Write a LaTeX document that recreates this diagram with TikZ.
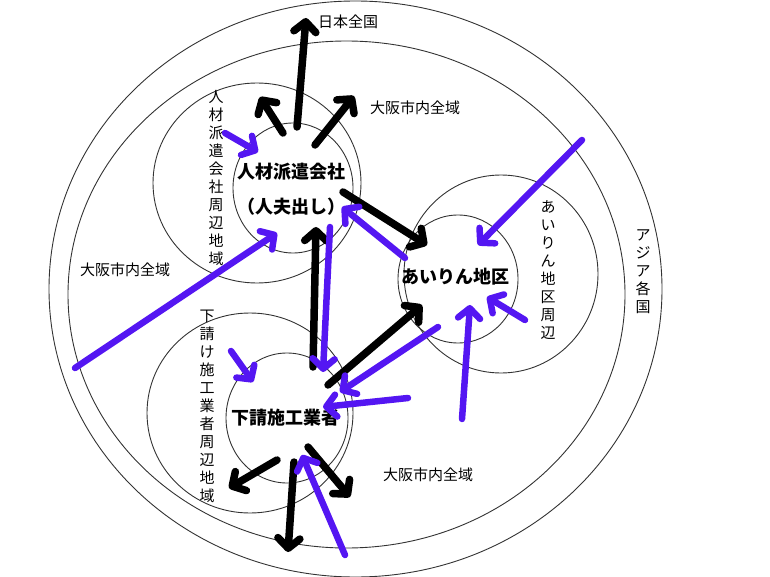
\documentclass[tikz,border=0pt]{standalone}
\usepackage{fontspec}
\newfontfamily\jp{Noto Sans CJK JP}
\usetikzlibrary{arrows.meta,shapes.geometric}
\definecolor{arrblue}{RGB}{84,22,242}
\tikzset{
  ring/.style={draw=black!80, line width=0.9pt, ellipse, inner sep=0pt},
  core/.style={align=center, inner sep=0pt,
    font=\jp\bfseries\fontsize{18}{35}\selectfont},
  tate/.style={align=center, inner sep=0pt,
    font=\jp\fontsize{15}{18}\selectfont},
  yoko/.style={inner sep=0pt, font=\jp\fontsize{15}{18}\selectfont},
  karr/.style={line width=7.5pt, line cap=round,
    -{Straight Barb[length=10pt, width=22pt, round]}},
  barr/.style={karr, arrblue, line width=6.5pt},
}

\begin{document}
\begin{tikzpicture}[x=1pt, y=-1pt]
  \useasboundingbox (0,0) rectangle (770,577);

  % Rings
  \node[ring, minimum width=613pt, minimum height=576pt] (asia) at (355.5,289) {};
  \node[ring, minimum width=557pt, minimum height=507pt] (osaka) at (346.5,294.5) {};
  \node[ring, minimum width=208pt, minimum height=200pt] (hakenarea) at (257,183) {};
  \node[ring, minimum width=194pt, minimum height=198pt] (airinarea) at (501,274) {};
  \node[ring, minimum width=206pt, minimum height=200pt] (shitaarea) at (250,413) {};
  \node[ring, minimum width=120pt, minimum height=130pt] (haken) at (293,188) {};
  \node[ring, minimum width=120pt, minimum height=128pt] (airin) at (458,279) {};
  \node[ring, minimum width=122pt, minimum height=130pt] (shita) at (287,418) {};

  % Centre texts
  \node[core] (hakentxt) at (291,189) {人材派遣会社\\（人夫出し）};
  \node[core] (airintxt) at (455,277) {あいりん地区};
  \node[core] (shitatxt) at (285,418) {下請施工業者};

  % Labels
  \node[tate] (asialbl) at (643,272) {ア\\ジ\\ア\\各\\国};
  \node[tate] (airinlbl) at (548,270) {あ\\い\\り\\ん\\地\\区\\周\\辺};
  \node[tate] (hakenlbl) at (216,178) {人\\材\\派\\遣\\会\\社\\周\\辺\\地\\域};
  \node[tate] (shitalbl) at (207,406) {下\\請\\け\\施\\工\\業\\者\\周\\辺\\地\\域};
  \node[yoko] (zenkoku) at (348,22) {日本全国};
  \node[yoko] (osakaA) at (415,108) {大阪市内全域};
  \node[yoko] (osakaB) at (125,270) {大阪市内全域};
  \node[yoko] (osakaC) at (428,475) {大阪市内全域};

  % Arrow ends
  \coordinate (k1a) at (297,127); \coordinate (k1b) at (306,18);
  \coordinate (k2a) at (283,133); \coordinate (k2b) at (260,97);
  \coordinate (k3a) at (315,145); \coordinate (k3b) at (354,96);
  \coordinate (k4a) at (343,192); \coordinate (k4b) at (427,245);
  \coordinate (k5a) at (313,367); \coordinate (k5b) at (316,227);
  \coordinate (k6a) at (328,385); \coordinate (k6b) at (422,305);
  \coordinate (k7a) at (277,460); \coordinate (k7b) at (229,488);
  \coordinate (k8a) at (294,462); \coordinate (k8b) at (288,552);
  \coordinate (k9a) at (308,447); \coordinate (k9b) at (350,497);

  \coordinate (b1a) at (225,133); \coordinate (b1b) at (258,152);
  \coordinate (b2a) at (75,368);  \coordinate (b2b) at (277,233);
  \coordinate (b3a) at (405,258); \coordinate (b3b) at (342,207);
  \coordinate (b4a) at (330,227); \coordinate (b4b) at (323,372);
  \coordinate (b5a) at (438,327); \coordinate (b5b) at (340,392);
  \coordinate (b6a) at (408,398); \coordinate (b6b) at (323,407);
  \coordinate (b7a) at (231,351); \coordinate (b7b) at (253,382);
  \coordinate (b8a) at (345,555); \coordinate (b8b) at (302,455);
  \coordinate (b9a) at (582,140); \coordinate (b9b) at (478,245);
  \coordinate (b10a) at (462,419); \coordinate (b10b) at (470,305);
  \coordinate (b11a) at (525,320); \coordinate (b11b) at (487,297);

  % Black arrows
  \draw[karr] (k1a) -- (k1b);
  \draw[karr] (k2a) -- (k2b);
  \draw[karr] (k3a) -- (k3b);
  \draw[karr] (k4a) -- (k4b);
  \draw[karr] (k5a) -- (k5b);
  \draw[karr] (k6a) -- (k6b);
  \draw[karr] (k7a) -- (k7b);
  \draw[karr] (k8a) -- (k8b);
  \draw[karr] (k9a) -- (k9b);

  % Blue arrows
  \draw[barr] (b1a) -- (b1b);
  \draw[barr] (b2a) -- (b2b);
  \draw[barr] (b3a) -- (b3b);
  \draw[barr] (b4a) -- (b4b);
  \draw[barr] (b5a) -- (b5b);
  \draw[barr] (b6a) -- (b6b);
  \draw[barr] (b7a) -- (b7b);
  \draw[barr] (b8a) -- (b8b);
  \draw[barr] (b9a) -- (b9b);
  \draw[barr] (b10a) -- (b10b);
  \draw[barr] (b11a) -- (b11b);
\end{tikzpicture}
\end{document}
